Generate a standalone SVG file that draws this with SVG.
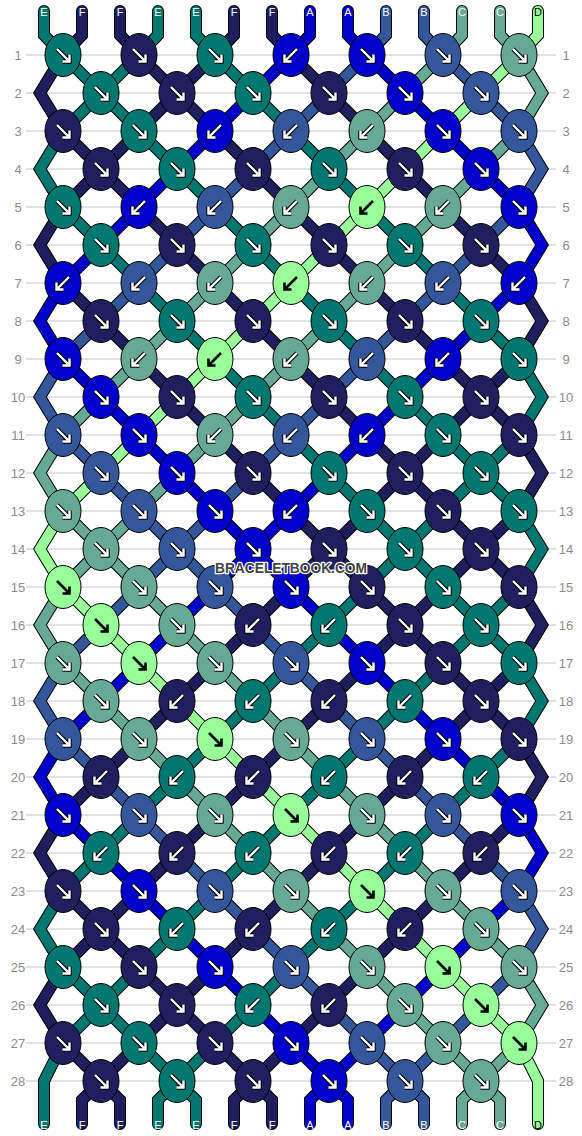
<svg xmlns="http://www.w3.org/2000/svg" width="582" height="1136" viewBox="0 0 582 1136">
<style>
.g{stroke:#c4c4c4;stroke-width:1}
.rl{font-family:"Liberation Sans",Arial,sans-serif;font-size:13px;fill:#8c8c8c;text-anchor:middle}
.sl{font-family:"Liberation Sans",Arial,sans-serif;font-size:11px;text-anchor:middle;fill:#fff}
.o{fill:none;stroke:#000;stroke-width:12;stroke-linejoin:miter;stroke-linecap:round}
.s{fill:none;stroke-width:10;stroke-linejoin:miter;stroke-linecap:round}
.sE{stroke:#00786f}.sF{stroke:#1f1f5f}.sA{stroke:#0000cc}.sB{stroke:#33579a}.sC{stroke:#66aa96}.sD{stroke:#99ff99}
ellipse{stroke:#000;stroke-width:1}
.cE{fill:#00786f}.cF{fill:#1f1f5f}.cA{fill:#0000cc}.cB{fill:#33579a}.cC{fill:#66aa96}.cD{fill:#99ff99}
</style>
<defs>
<g id="aR"><path d="M-6,-6L5,5M6.5,-0.5V6.5H-0.5" fill="none" stroke="#000" stroke-width="4.4"/><path d="M-6,-6L5,5M6.5,-0.5V6.5H-0.5" fill="none" stroke="#fff" stroke-width="2.4"/></g>
<use id="aL" href="#aR" transform="scale(-1,1)"/>
<path id="aRd" d="M-6,-6L5,5M6.5,-0.5V6.5H-0.5" fill="none" stroke="#000" stroke-width="2.6"/>
<use id="aLd" href="#aRd" transform="scale(-1,1)"/>
</defs>
<rect width="582" height="1136" fill="#fff"/>
<g id="grid">
<path class="g" d="M26,55H556M26,93H556M26,131H556M26,169H556M26,207H556M26,245H556M26,283H556M26,321H556M26,359H556M26,397H556M26,435H556M26,473H556M26,511H556M26,549H556M26,587H556M26,625H556M26,663H556M26,701H556M26,739H556M26,777H556M26,815H556M26,853H556M26,891H556M26,929H556M26,967H556M26,1005H556M26,1043H556M26,1081H556"/>
</g>
<g id="rowlabels" class="rl">
<text x="18" y="60">1</text><text x="18" y="98">2</text><text x="18" y="136">3</text><text x="18" y="174">4</text><text x="18" y="212">5</text><text x="18" y="250">6</text><text x="18" y="288">7</text><text x="18" y="326">8</text><text x="18" y="364">9</text><text x="18" y="402">10</text><text x="18" y="440">11</text><text x="18" y="478">12</text><text x="18" y="516">13</text><text x="18" y="554">14</text><text x="18" y="592">15</text><text x="18" y="630">16</text><text x="18" y="668">17</text><text x="18" y="706">18</text><text x="18" y="744">19</text><text x="18" y="782">20</text><text x="18" y="820">21</text><text x="18" y="858">22</text><text x="18" y="896">23</text><text x="18" y="934">24</text><text x="18" y="972">25</text><text x="18" y="1010">26</text><text x="18" y="1048">27</text><text x="18" y="1086">28</text>
<text x="566" y="60">1</text><text x="566" y="98">2</text><text x="566" y="136">3</text><text x="566" y="174">4</text><text x="566" y="212">5</text><text x="566" y="250">6</text><text x="566" y="288">7</text><text x="566" y="326">8</text><text x="566" y="364">9</text><text x="566" y="402">10</text><text x="566" y="440">11</text><text x="566" y="478">12</text><text x="566" y="516">13</text><text x="566" y="554">14</text><text x="566" y="592">15</text><text x="566" y="630">16</text><text x="566" y="668">17</text><text x="566" y="706">18</text><text x="566" y="744">19</text><text x="566" y="782">20</text><text x="566" y="820">21</text><text x="566" y="858">22</text><text x="566" y="896">23</text><text x="566" y="934">24</text><text x="566" y="972">25</text><text x="566" y="1010">26</text><text x="566" y="1048">27</text><text x="566" y="1086">28</text>
</g>
<g id="connectors">
<g id="outlines">
<path class="o" d="M44,11V35L63,55L519,511L542,549L519,587L63,1043L44,1081V1124"/>
<path class="o" d="M82,11V35L63,55L40,93L63,131L519,587L542,625L519,663L101,1081L82,1100V1124"/>
<path class="o" d="M120,11V35L139,55L519,435L542,473L519,511L63,967L40,1005L63,1043L101,1081L120,1100V1124"/>
<path class="o" d="M158,11V35L139,55L63,131L40,169L63,207L519,663L542,701L519,739L177,1081L158,1100V1124"/>
<path class="o" d="M196,11V35L215,55L519,359L542,397L519,435L63,891L40,929L63,967L177,1081L196,1100V1124"/>
<path class="o" d="M234,11V35L215,55L63,207L40,245L63,283L519,739L542,777L519,815L253,1081L234,1100V1124"/>
<path class="o" d="M272,11V35L291,55L519,283L542,321L519,359L63,815L40,853L63,891L253,1081L272,1100V1124"/>
<path class="o" d="M310,11V35L291,55L63,283L40,321L63,359L519,815L542,853L519,891L329,1081L310,1100V1124"/>
<path class="o" d="M348,11V35L367,55L519,207L542,245L519,283L63,739L40,777L63,815L329,1081L348,1100V1124"/>
<path class="o" d="M386,11V35L367,55L63,359L40,397L63,435L519,891L542,929L519,967L405,1081L386,1100V1124"/>
<path class="o" d="M424,11V35L443,55L519,131L542,169L519,207L63,663L40,701L63,739L405,1081L424,1100V1124"/>
<path class="o" d="M462,11V35L443,55L63,435L40,473L63,511L519,967L542,1005L519,1043L481,1081L462,1100V1124"/>
<path class="o" d="M500,11V35L519,55L542,93L519,131L63,587L40,625L63,663L481,1081L500,1100V1124"/>
<path class="o" d="M538,11V35L519,55L63,511L40,549L63,587L519,1043L538,1081V1124"/>
</g>
<g id="strands">
<path id="s1" class="s sE" d="M44,11V35L63,55L519,511L542,549L519,587L63,1043L44,1081V1124"/>
<path id="s2" class="s sF" d="M82,11V35L63,55L40,93L63,131L519,587L542,625L519,663L101,1081L82,1100V1124"/>
<path id="s3" class="s sF" d="M120,11V35L139,55L519,435L542,473L519,511L63,967L40,1005L63,1043L101,1081L120,1100V1124"/>
<path id="s4" class="s sE" d="M158,11V35L139,55L63,131L40,169L63,207L519,663L542,701L519,739L177,1081L158,1100V1124"/>
<path id="s5" class="s sE" d="M196,11V35L215,55L519,359L542,397L519,435L63,891L40,929L63,967L177,1081L196,1100V1124"/>
<path id="s6" class="s sF" d="M234,11V35L215,55L63,207L40,245L63,283L519,739L542,777L519,815L253,1081L234,1100V1124"/>
<path id="s7" class="s sF" d="M272,11V35L291,55L519,283L542,321L519,359L63,815L40,853L63,891L253,1081L272,1100V1124"/>
<path id="s8" class="s sA" d="M310,11V35L291,55L63,283L40,321L63,359L519,815L542,853L519,891L329,1081L310,1100V1124"/>
<path id="s9" class="s sA" d="M348,11V35L367,55L519,207L542,245L519,283L63,739L40,777L63,815L329,1081L348,1100V1124"/>
<path id="s10" class="s sB" d="M386,11V35L367,55L63,359L40,397L63,435L519,891L542,929L519,967L405,1081L386,1100V1124"/>
<path id="s11" class="s sB" d="M424,11V35L443,55L519,131L542,169L519,207L63,663L40,701L63,739L405,1081L424,1100V1124"/>
<path id="s12" class="s sC" d="M462,11V35L443,55L63,435L40,473L63,511L519,967L542,1005L519,1043L481,1081L462,1100V1124"/>
<path id="s13" class="s sC" d="M500,11V35L519,55L542,93L519,131L63,587L40,625L63,663L481,1081L500,1100V1124"/>
<path id="s14" class="s sD" d="M538,11V35L519,55L63,511L40,549L63,587L519,1043L538,1081V1124"/>
</g>
</g>
<g id="strandlabels" class="sl">
<text x="44" y="16">E</text><text x="82" y="16">F</text><text x="120" y="16">F</text><text x="158" y="16">E</text><text x="196" y="16">E</text><text x="234" y="16">F</text><text x="272" y="16">F</text><text x="310" y="16">A</text><text x="348" y="16">A</text><text x="386" y="16">B</text><text x="424" y="16">B</text><text x="462" y="16">C</text><text x="500" y="16">C</text><text x="538" y="16" fill="#000">D</text>
<text x="44" y="1129">E</text><text x="82" y="1129">F</text><text x="120" y="1129">F</text><text x="158" y="1129">E</text><text x="196" y="1129">E</text><text x="234" y="1129">F</text><text x="272" y="1129">F</text><text x="310" y="1129">A</text><text x="348" y="1129">A</text><text x="386" y="1129">B</text><text x="424" y="1129">B</text><text x="462" y="1129">C</text><text x="500" y="1129">C</text><text x="538" y="1129" fill="#000">D</text>
</g>
<g id="knots">
<g id="k1-1" transform="translate(63 55)"><ellipse class="cE" rx="18" ry="21.5"/><use href="#aR"/></g>
<g id="k1-2" transform="translate(139 55)"><ellipse class="cF" rx="18" ry="21.5"/><use href="#aR"/></g>
<g id="k1-3" transform="translate(215 55)"><ellipse class="cE" rx="18" ry="21.5"/><use href="#aR"/></g>
<g id="k1-4" transform="translate(291 55)"><ellipse class="cA" rx="18" ry="21.5"/><use href="#aL"/></g>
<g id="k1-5" transform="translate(367 55)"><ellipse class="cA" rx="18" ry="21.5"/><use href="#aR"/></g>
<g id="k1-6" transform="translate(443 55)"><ellipse class="cB" rx="18" ry="21.5"/><use href="#aR"/></g>
<g id="k1-7" transform="translate(519 55)"><ellipse class="cC" rx="18" ry="21.5"/><use href="#aR"/></g>
<g id="k2-1" transform="translate(101 93)"><ellipse class="cE" rx="18" ry="21.5"/><use href="#aR"/></g>
<g id="k2-2" transform="translate(177 93)"><ellipse class="cF" rx="18" ry="21.5"/><use href="#aR"/></g>
<g id="k2-3" transform="translate(253 93)"><ellipse class="cE" rx="18" ry="21.5"/><use href="#aR"/></g>
<g id="k2-4" transform="translate(329 93)"><ellipse class="cF" rx="18" ry="21.5"/><use href="#aR"/></g>
<g id="k2-5" transform="translate(405 93)"><ellipse class="cA" rx="18" ry="21.5"/><use href="#aR"/></g>
<g id="k2-6" transform="translate(481 93)"><ellipse class="cB" rx="18" ry="21.5"/><use href="#aR"/></g>
<g id="k3-1" transform="translate(63 131)"><ellipse class="cF" rx="18" ry="21.5"/><use href="#aR"/></g>
<g id="k3-2" transform="translate(139 131)"><ellipse class="cE" rx="18" ry="21.5"/><use href="#aR"/></g>
<g id="k3-3" transform="translate(215 131)"><ellipse class="cA" rx="18" ry="21.5"/><use href="#aL"/></g>
<g id="k3-4" transform="translate(291 131)"><ellipse class="cB" rx="18" ry="21.5"/><use href="#aL"/></g>
<g id="k3-5" transform="translate(367 131)"><ellipse class="cC" rx="18" ry="21.5"/><use href="#aL"/></g>
<g id="k3-6" transform="translate(443 131)"><ellipse class="cA" rx="18" ry="21.5"/><use href="#aR"/></g>
<g id="k3-7" transform="translate(519 131)"><ellipse class="cB" rx="18" ry="21.5"/><use href="#aR"/></g>
<g id="k4-1" transform="translate(101 169)"><ellipse class="cF" rx="18" ry="21.5"/><use href="#aR"/></g>
<g id="k4-2" transform="translate(177 169)"><ellipse class="cE" rx="18" ry="21.5"/><use href="#aR"/></g>
<g id="k4-3" transform="translate(253 169)"><ellipse class="cF" rx="18" ry="21.5"/><use href="#aR"/></g>
<g id="k4-4" transform="translate(329 169)"><ellipse class="cE" rx="18" ry="21.5"/><use href="#aR"/></g>
<g id="k4-5" transform="translate(405 169)"><ellipse class="cF" rx="18" ry="21.5"/><use href="#aR"/></g>
<g id="k4-6" transform="translate(481 169)"><ellipse class="cA" rx="18" ry="21.5"/><use href="#aR"/></g>
<g id="k5-1" transform="translate(63 207)"><ellipse class="cE" rx="18" ry="21.5"/><use href="#aR"/></g>
<g id="k5-2" transform="translate(139 207)"><ellipse class="cA" rx="18" ry="21.5"/><use href="#aL"/></g>
<g id="k5-3" transform="translate(215 207)"><ellipse class="cB" rx="18" ry="21.5"/><use href="#aL"/></g>
<g id="k5-4" transform="translate(291 207)"><ellipse class="cC" rx="18" ry="21.5"/><use href="#aL"/></g>
<g id="k5-5" transform="translate(367 207)"><ellipse class="cD" rx="18" ry="21.5"/><use href="#aLd"/></g>
<g id="k5-6" transform="translate(443 207)"><ellipse class="cC" rx="18" ry="21.5"/><use href="#aL"/></g>
<g id="k5-7" transform="translate(519 207)"><ellipse class="cA" rx="18" ry="21.5"/><use href="#aR"/></g>
<g id="k6-1" transform="translate(101 245)"><ellipse class="cE" rx="18" ry="21.5"/><use href="#aR"/></g>
<g id="k6-2" transform="translate(177 245)"><ellipse class="cF" rx="18" ry="21.5"/><use href="#aR"/></g>
<g id="k6-3" transform="translate(253 245)"><ellipse class="cE" rx="18" ry="21.5"/><use href="#aR"/></g>
<g id="k6-4" transform="translate(329 245)"><ellipse class="cF" rx="18" ry="21.5"/><use href="#aR"/></g>
<g id="k6-5" transform="translate(405 245)"><ellipse class="cE" rx="18" ry="21.5"/><use href="#aR"/></g>
<g id="k6-6" transform="translate(481 245)"><ellipse class="cF" rx="18" ry="21.5"/><use href="#aR"/></g>
<g id="k7-1" transform="translate(63 283)"><ellipse class="cA" rx="18" ry="21.5"/><use href="#aL"/></g>
<g id="k7-2" transform="translate(139 283)"><ellipse class="cB" rx="18" ry="21.5"/><use href="#aL"/></g>
<g id="k7-3" transform="translate(215 283)"><ellipse class="cC" rx="18" ry="21.5"/><use href="#aL"/></g>
<g id="k7-4" transform="translate(291 283)"><ellipse class="cD" rx="18" ry="21.5"/><use href="#aLd"/></g>
<g id="k7-5" transform="translate(367 283)"><ellipse class="cC" rx="18" ry="21.5"/><use href="#aL"/></g>
<g id="k7-6" transform="translate(443 283)"><ellipse class="cB" rx="18" ry="21.5"/><use href="#aL"/></g>
<g id="k7-7" transform="translate(519 283)"><ellipse class="cA" rx="18" ry="21.5"/><use href="#aL"/></g>
<g id="k8-1" transform="translate(101 321)"><ellipse class="cF" rx="18" ry="21.5"/><use href="#aR"/></g>
<g id="k8-2" transform="translate(177 321)"><ellipse class="cE" rx="18" ry="21.5"/><use href="#aR"/></g>
<g id="k8-3" transform="translate(253 321)"><ellipse class="cF" rx="18" ry="21.5"/><use href="#aR"/></g>
<g id="k8-4" transform="translate(329 321)"><ellipse class="cE" rx="18" ry="21.5"/><use href="#aR"/></g>
<g id="k8-5" transform="translate(405 321)"><ellipse class="cF" rx="18" ry="21.5"/><use href="#aR"/></g>
<g id="k8-6" transform="translate(481 321)"><ellipse class="cE" rx="18" ry="21.5"/><use href="#aR"/></g>
<g id="k9-1" transform="translate(63 359)"><ellipse class="cA" rx="18" ry="21.5"/><use href="#aR"/></g>
<g id="k9-2" transform="translate(139 359)"><ellipse class="cC" rx="18" ry="21.5"/><use href="#aL"/></g>
<g id="k9-3" transform="translate(215 359)"><ellipse class="cD" rx="18" ry="21.5"/><use href="#aLd"/></g>
<g id="k9-4" transform="translate(291 359)"><ellipse class="cC" rx="18" ry="21.5"/><use href="#aL"/></g>
<g id="k9-5" transform="translate(367 359)"><ellipse class="cB" rx="18" ry="21.5"/><use href="#aL"/></g>
<g id="k9-6" transform="translate(443 359)"><ellipse class="cA" rx="18" ry="21.5"/><use href="#aL"/></g>
<g id="k9-7" transform="translate(519 359)"><ellipse class="cE" rx="18" ry="21.5"/><use href="#aR"/></g>
<g id="k10-1" transform="translate(101 397)"><ellipse class="cA" rx="18" ry="21.5"/><use href="#aR"/></g>
<g id="k10-2" transform="translate(177 397)"><ellipse class="cF" rx="18" ry="21.5"/><use href="#aR"/></g>
<g id="k10-3" transform="translate(253 397)"><ellipse class="cE" rx="18" ry="21.5"/><use href="#aR"/></g>
<g id="k10-4" transform="translate(329 397)"><ellipse class="cF" rx="18" ry="21.5"/><use href="#aR"/></g>
<g id="k10-5" transform="translate(405 397)"><ellipse class="cE" rx="18" ry="21.5"/><use href="#aR"/></g>
<g id="k10-6" transform="translate(481 397)"><ellipse class="cF" rx="18" ry="21.5"/><use href="#aR"/></g>
<g id="k11-1" transform="translate(63 435)"><ellipse class="cB" rx="18" ry="21.5"/><use href="#aR"/></g>
<g id="k11-2" transform="translate(139 435)"><ellipse class="cA" rx="18" ry="21.5"/><use href="#aR"/></g>
<g id="k11-3" transform="translate(215 435)"><ellipse class="cC" rx="18" ry="21.5"/><use href="#aL"/></g>
<g id="k11-4" transform="translate(291 435)"><ellipse class="cB" rx="18" ry="21.5"/><use href="#aL"/></g>
<g id="k11-5" transform="translate(367 435)"><ellipse class="cA" rx="18" ry="21.5"/><use href="#aL"/></g>
<g id="k11-6" transform="translate(443 435)"><ellipse class="cE" rx="18" ry="21.5"/><use href="#aR"/></g>
<g id="k11-7" transform="translate(519 435)"><ellipse class="cF" rx="18" ry="21.5"/><use href="#aR"/></g>
<g id="k12-1" transform="translate(101 473)"><ellipse class="cB" rx="18" ry="21.5"/><use href="#aR"/></g>
<g id="k12-2" transform="translate(177 473)"><ellipse class="cA" rx="18" ry="21.5"/><use href="#aR"/></g>
<g id="k12-3" transform="translate(253 473)"><ellipse class="cF" rx="18" ry="21.5"/><use href="#aR"/></g>
<g id="k12-4" transform="translate(329 473)"><ellipse class="cE" rx="18" ry="21.5"/><use href="#aR"/></g>
<g id="k12-5" transform="translate(405 473)"><ellipse class="cF" rx="18" ry="21.5"/><use href="#aR"/></g>
<g id="k12-6" transform="translate(481 473)"><ellipse class="cE" rx="18" ry="21.5"/><use href="#aR"/></g>
<g id="k13-1" transform="translate(63 511)"><ellipse class="cC" rx="18" ry="21.5"/><use href="#aR"/></g>
<g id="k13-2" transform="translate(139 511)"><ellipse class="cB" rx="18" ry="21.5"/><use href="#aR"/></g>
<g id="k13-3" transform="translate(215 511)"><ellipse class="cA" rx="18" ry="21.5"/><use href="#aR"/></g>
<g id="k13-4" transform="translate(291 511)"><ellipse class="cA" rx="18" ry="21.5"/><use href="#aL"/></g>
<g id="k13-5" transform="translate(367 511)"><ellipse class="cE" rx="18" ry="21.5"/><use href="#aR"/></g>
<g id="k13-6" transform="translate(443 511)"><ellipse class="cF" rx="18" ry="21.5"/><use href="#aR"/></g>
<g id="k13-7" transform="translate(519 511)"><ellipse class="cE" rx="18" ry="21.5"/><use href="#aR"/></g>
<g id="k14-1" transform="translate(101 549)"><ellipse class="cC" rx="18" ry="21.5"/><use href="#aR"/></g>
<g id="k14-2" transform="translate(177 549)"><ellipse class="cB" rx="18" ry="21.5"/><use href="#aR"/></g>
<g id="k14-3" transform="translate(253 549)"><ellipse class="cA" rx="18" ry="21.5"/><use href="#aR"/></g>
<g id="k14-4" transform="translate(329 549)"><ellipse class="cF" rx="18" ry="21.5"/><use href="#aR"/></g>
<g id="k14-5" transform="translate(405 549)"><ellipse class="cE" rx="18" ry="21.5"/><use href="#aR"/></g>
<g id="k14-6" transform="translate(481 549)"><ellipse class="cF" rx="18" ry="21.5"/><use href="#aR"/></g>
<g id="k15-1" transform="translate(63 587)"><ellipse class="cD" rx="18" ry="21.5"/><use href="#aRd"/></g>
<g id="k15-2" transform="translate(139 587)"><ellipse class="cC" rx="18" ry="21.5"/><use href="#aR"/></g>
<g id="k15-3" transform="translate(215 587)"><ellipse class="cB" rx="18" ry="21.5"/><use href="#aR"/></g>
<g id="k15-4" transform="translate(291 587)"><ellipse class="cA" rx="18" ry="21.5"/><use href="#aR"/></g>
<g id="k15-5" transform="translate(367 587)"><ellipse class="cF" rx="18" ry="21.5"/><use href="#aR"/></g>
<g id="k15-6" transform="translate(443 587)"><ellipse class="cE" rx="18" ry="21.5"/><use href="#aR"/></g>
<g id="k15-7" transform="translate(519 587)"><ellipse class="cF" rx="18" ry="21.5"/><use href="#aR"/></g>
<g id="k16-1" transform="translate(101 625)"><ellipse class="cD" rx="18" ry="21.5"/><use href="#aRd"/></g>
<g id="k16-2" transform="translate(177 625)"><ellipse class="cC" rx="18" ry="21.5"/><use href="#aR"/></g>
<g id="k16-3" transform="translate(253 625)"><ellipse class="cF" rx="18" ry="21.5"/><use href="#aL"/></g>
<g id="k16-4" transform="translate(329 625)"><ellipse class="cE" rx="18" ry="21.5"/><use href="#aL"/></g>
<g id="k16-5" transform="translate(405 625)"><ellipse class="cF" rx="18" ry="21.5"/><use href="#aR"/></g>
<g id="k16-6" transform="translate(481 625)"><ellipse class="cE" rx="18" ry="21.5"/><use href="#aR"/></g>
<g id="k17-1" transform="translate(63 663)"><ellipse class="cC" rx="18" ry="21.5"/><use href="#aR"/></g>
<g id="k17-2" transform="translate(139 663)"><ellipse class="cD" rx="18" ry="21.5"/><use href="#aRd"/></g>
<g id="k17-3" transform="translate(215 663)"><ellipse class="cC" rx="18" ry="21.5"/><use href="#aR"/></g>
<g id="k17-4" transform="translate(291 663)"><ellipse class="cB" rx="18" ry="21.5"/><use href="#aR"/></g>
<g id="k17-5" transform="translate(367 663)"><ellipse class="cA" rx="18" ry="21.5"/><use href="#aR"/></g>
<g id="k17-6" transform="translate(443 663)"><ellipse class="cF" rx="18" ry="21.5"/><use href="#aR"/></g>
<g id="k17-7" transform="translate(519 663)"><ellipse class="cE" rx="18" ry="21.5"/><use href="#aR"/></g>
<g id="k18-1" transform="translate(101 701)"><ellipse class="cC" rx="18" ry="21.5"/><use href="#aR"/></g>
<g id="k18-2" transform="translate(177 701)"><ellipse class="cF" rx="18" ry="21.5"/><use href="#aL"/></g>
<g id="k18-3" transform="translate(253 701)"><ellipse class="cE" rx="18" ry="21.5"/><use href="#aL"/></g>
<g id="k18-4" transform="translate(329 701)"><ellipse class="cF" rx="18" ry="21.5"/><use href="#aL"/></g>
<g id="k18-5" transform="translate(405 701)"><ellipse class="cE" rx="18" ry="21.5"/><use href="#aL"/></g>
<g id="k18-6" transform="translate(481 701)"><ellipse class="cF" rx="18" ry="21.5"/><use href="#aR"/></g>
<g id="k19-1" transform="translate(63 739)"><ellipse class="cB" rx="18" ry="21.5"/><use href="#aR"/></g>
<g id="k19-2" transform="translate(139 739)"><ellipse class="cC" rx="18" ry="21.5"/><use href="#aR"/></g>
<g id="k19-3" transform="translate(215 739)"><ellipse class="cD" rx="18" ry="21.5"/><use href="#aRd"/></g>
<g id="k19-4" transform="translate(291 739)"><ellipse class="cC" rx="18" ry="21.5"/><use href="#aR"/></g>
<g id="k19-5" transform="translate(367 739)"><ellipse class="cB" rx="18" ry="21.5"/><use href="#aR"/></g>
<g id="k19-6" transform="translate(443 739)"><ellipse class="cA" rx="18" ry="21.5"/><use href="#aR"/></g>
<g id="k19-7" transform="translate(519 739)"><ellipse class="cF" rx="18" ry="21.5"/><use href="#aR"/></g>
<g id="k20-1" transform="translate(101 777)"><ellipse class="cF" rx="18" ry="21.5"/><use href="#aL"/></g>
<g id="k20-2" transform="translate(177 777)"><ellipse class="cE" rx="18" ry="21.5"/><use href="#aL"/></g>
<g id="k20-3" transform="translate(253 777)"><ellipse class="cF" rx="18" ry="21.5"/><use href="#aL"/></g>
<g id="k20-4" transform="translate(329 777)"><ellipse class="cE" rx="18" ry="21.5"/><use href="#aL"/></g>
<g id="k20-5" transform="translate(405 777)"><ellipse class="cF" rx="18" ry="21.5"/><use href="#aL"/></g>
<g id="k20-6" transform="translate(481 777)"><ellipse class="cE" rx="18" ry="21.5"/><use href="#aL"/></g>
<g id="k21-1" transform="translate(63 815)"><ellipse class="cA" rx="18" ry="21.5"/><use href="#aR"/></g>
<g id="k21-2" transform="translate(139 815)"><ellipse class="cB" rx="18" ry="21.5"/><use href="#aR"/></g>
<g id="k21-3" transform="translate(215 815)"><ellipse class="cC" rx="18" ry="21.5"/><use href="#aR"/></g>
<g id="k21-4" transform="translate(291 815)"><ellipse class="cD" rx="18" ry="21.5"/><use href="#aRd"/></g>
<g id="k21-5" transform="translate(367 815)"><ellipse class="cC" rx="18" ry="21.5"/><use href="#aR"/></g>
<g id="k21-6" transform="translate(443 815)"><ellipse class="cB" rx="18" ry="21.5"/><use href="#aR"/></g>
<g id="k21-7" transform="translate(519 815)"><ellipse class="cA" rx="18" ry="21.5"/><use href="#aR"/></g>
<g id="k22-1" transform="translate(101 853)"><ellipse class="cE" rx="18" ry="21.5"/><use href="#aL"/></g>
<g id="k22-2" transform="translate(177 853)"><ellipse class="cF" rx="18" ry="21.5"/><use href="#aL"/></g>
<g id="k22-3" transform="translate(253 853)"><ellipse class="cE" rx="18" ry="21.5"/><use href="#aL"/></g>
<g id="k22-4" transform="translate(329 853)"><ellipse class="cF" rx="18" ry="21.5"/><use href="#aL"/></g>
<g id="k22-5" transform="translate(405 853)"><ellipse class="cE" rx="18" ry="21.5"/><use href="#aL"/></g>
<g id="k22-6" transform="translate(481 853)"><ellipse class="cF" rx="18" ry="21.5"/><use href="#aL"/></g>
<g id="k23-1" transform="translate(63 891)"><ellipse class="cF" rx="18" ry="21.5"/><use href="#aR"/></g>
<g id="k23-2" transform="translate(139 891)"><ellipse class="cA" rx="18" ry="21.5"/><use href="#aR"/></g>
<g id="k23-3" transform="translate(215 891)"><ellipse class="cB" rx="18" ry="21.5"/><use href="#aR"/></g>
<g id="k23-4" transform="translate(291 891)"><ellipse class="cC" rx="18" ry="21.5"/><use href="#aR"/></g>
<g id="k23-5" transform="translate(367 891)"><ellipse class="cD" rx="18" ry="21.5"/><use href="#aRd"/></g>
<g id="k23-6" transform="translate(443 891)"><ellipse class="cC" rx="18" ry="21.5"/><use href="#aR"/></g>
<g id="k23-7" transform="translate(519 891)"><ellipse class="cB" rx="18" ry="21.5"/><use href="#aR"/></g>
<g id="k24-1" transform="translate(101 929)"><ellipse class="cF" rx="18" ry="21.5"/><use href="#aR"/></g>
<g id="k24-2" transform="translate(177 929)"><ellipse class="cE" rx="18" ry="21.5"/><use href="#aL"/></g>
<g id="k24-3" transform="translate(253 929)"><ellipse class="cF" rx="18" ry="21.5"/><use href="#aL"/></g>
<g id="k24-4" transform="translate(329 929)"><ellipse class="cE" rx="18" ry="21.5"/><use href="#aL"/></g>
<g id="k24-5" transform="translate(405 929)"><ellipse class="cF" rx="18" ry="21.5"/><use href="#aL"/></g>
<g id="k24-6" transform="translate(481 929)"><ellipse class="cC" rx="18" ry="21.5"/><use href="#aR"/></g>
<g id="k25-1" transform="translate(63 967)"><ellipse class="cE" rx="18" ry="21.5"/><use href="#aR"/></g>
<g id="k25-2" transform="translate(139 967)"><ellipse class="cF" rx="18" ry="21.5"/><use href="#aR"/></g>
<g id="k25-3" transform="translate(215 967)"><ellipse class="cA" rx="18" ry="21.5"/><use href="#aR"/></g>
<g id="k25-4" transform="translate(291 967)"><ellipse class="cB" rx="18" ry="21.5"/><use href="#aR"/></g>
<g id="k25-5" transform="translate(367 967)"><ellipse class="cC" rx="18" ry="21.5"/><use href="#aR"/></g>
<g id="k25-6" transform="translate(443 967)"><ellipse class="cD" rx="18" ry="21.5"/><use href="#aRd"/></g>
<g id="k25-7" transform="translate(519 967)"><ellipse class="cC" rx="18" ry="21.5"/><use href="#aR"/></g>
<g id="k26-1" transform="translate(101 1005)"><ellipse class="cE" rx="18" ry="21.5"/><use href="#aR"/></g>
<g id="k26-2" transform="translate(177 1005)"><ellipse class="cF" rx="18" ry="21.5"/><use href="#aR"/></g>
<g id="k26-3" transform="translate(253 1005)"><ellipse class="cE" rx="18" ry="21.5"/><use href="#aL"/></g>
<g id="k26-4" transform="translate(329 1005)"><ellipse class="cF" rx="18" ry="21.5"/><use href="#aL"/></g>
<g id="k26-5" transform="translate(405 1005)"><ellipse class="cC" rx="18" ry="21.5"/><use href="#aR"/></g>
<g id="k26-6" transform="translate(481 1005)"><ellipse class="cD" rx="18" ry="21.5"/><use href="#aRd"/></g>
<g id="k27-1" transform="translate(63 1043)"><ellipse class="cF" rx="18" ry="21.5"/><use href="#aR"/></g>
<g id="k27-2" transform="translate(139 1043)"><ellipse class="cE" rx="18" ry="21.5"/><use href="#aR"/></g>
<g id="k27-3" transform="translate(215 1043)"><ellipse class="cF" rx="18" ry="21.5"/><use href="#aR"/></g>
<g id="k27-4" transform="translate(291 1043)"><ellipse class="cA" rx="18" ry="21.5"/><use href="#aR"/></g>
<g id="k27-5" transform="translate(367 1043)"><ellipse class="cB" rx="18" ry="21.5"/><use href="#aR"/></g>
<g id="k27-6" transform="translate(443 1043)"><ellipse class="cC" rx="18" ry="21.5"/><use href="#aR"/></g>
<g id="k27-7" transform="translate(519 1043)"><ellipse class="cD" rx="18" ry="21.5"/><use href="#aRd"/></g>
<g id="k28-1" transform="translate(101 1081)"><ellipse class="cF" rx="18" ry="21.5"/><use href="#aR"/></g>
<g id="k28-2" transform="translate(177 1081)"><ellipse class="cE" rx="18" ry="21.5"/><use href="#aR"/></g>
<g id="k28-3" transform="translate(253 1081)"><ellipse class="cF" rx="18" ry="21.5"/><use href="#aR"/></g>
<g id="k28-4" transform="translate(329 1081)"><ellipse class="cA" rx="18" ry="21.5"/><use href="#aR"/></g>
<g id="k28-5" transform="translate(405 1081)"><ellipse class="cB" rx="18" ry="21.5"/><use href="#aR"/></g>
<g id="k28-6" transform="translate(481 1081)"><ellipse class="cC" rx="18" ry="21.5"/><use href="#aR"/></g>
</g>
<text id="watermark" x="291" y="573" font-family="Liberation Sans, Arial, sans-serif" font-weight="bold" font-size="14" text-anchor="middle" textLength="152" lengthAdjust="spacingAndGlyphs" fill="#444" stroke="#fff" stroke-width="2.5" paint-order="stroke" stroke-linejoin="round">BRACELETBOOK.COM</text>
</svg>
